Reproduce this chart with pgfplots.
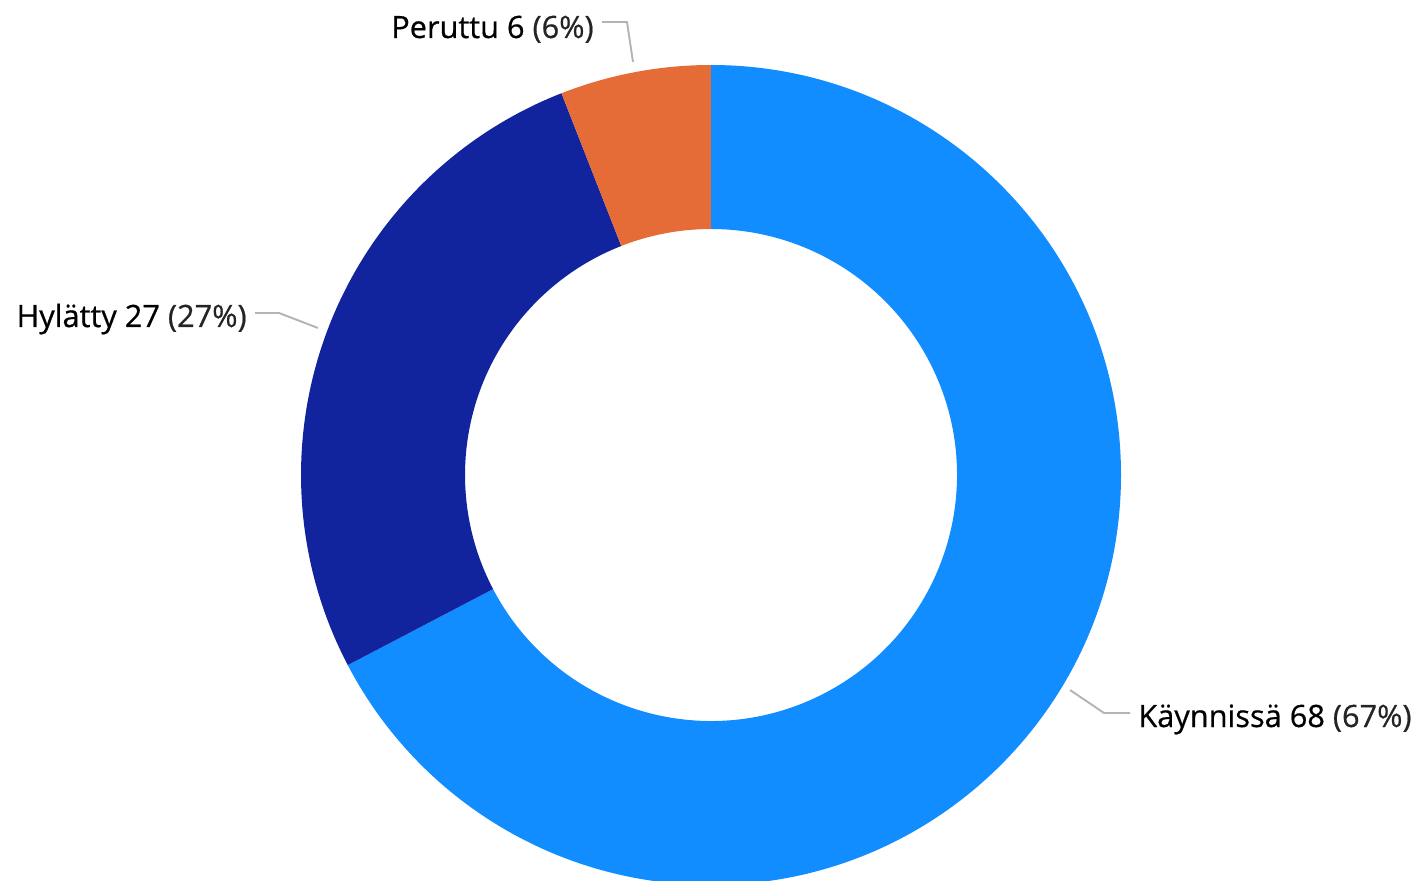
\documentclass[border=0pt]{standalone}
\usepackage{pgfplots}
\pgfplotsset{compat=1.18}
\usepackage{pgfplotstable}
\usepackage{fontspec}
\setmainfont{Open Sans}
\newfontface\lblfont{Open Sans}[FakeBold=0.6]

\definecolor{cBlue}{HTML}{118DFF}
\definecolor{cNavy}{HTML}{12239E}
\definecolor{cOrange}{HTML}{E66C37}
\definecolor{cLead}{HTML}{B4B4B4}
\definecolor{cPct}{HTML}{252423}

% donut slices, clockwise from 12 o'clock
\pgfplotstableread{
name value
Käynnissä 68
Hylätty 27
Peruttu 6
}\donutdata

% centre and radii in axis units (1 unit = 1 px of the reference)
\def\cx{711}
\def\cy{405}
\def\Rout{410}
\def\Rin{246}

\newcommand{\sector}[3]{%
  \fill[#1] (axis cs:{\cx+\Rout*cos(#2)},{\cy+\Rout*sin(#2)})
    arc[start angle=#2, end angle=#3, radius=\Rout]
    -- (axis cs:{\cx+\Rin*cos(#3)},{\cy+\Rin*sin(#3)})
    arc[start angle=#3, end angle=#2, radius=\Rin] -- cycle;}

\tikzset{lbl/.style={font=\lblfont\fontsize{17.5}{21}\selectfont, inner sep=0pt, text=black}}

\begin{document}
\begin{tikzpicture}
\pgfplotstablegetelem{0}{value}\of\donutdata \edef\va{\pgfplotsretval}
\pgfplotstablegetelem{1}{value}\of\donutdata \edef\vb{\pgfplotsretval}
\pgfplotstablegetelem{2}{value}\of\donutdata \edef\vc{\pgfplotsretval}
\pgfmathsetmacro{\tot}{\va+\vb+\vc}
\pgfmathsetmacro{\aA}{90}
\pgfmathsetmacro{\aB}{90-360*(\va/\tot)}
\pgfmathsetmacro{\aC}{\aB-360*(\vb/\tot)}
\pgfmathsetmacro{\aD}{\aC-360*(\vc/\tot)}
\pgfmathtruncatemacro{\pa}{round(100*(\va/\tot))}
\pgfmathtruncatemacro{\pb}{round(100*(\vb/\tot))}
\pgfmathtruncatemacro{\pc}{round(100*(\vc/\tot))}
\begin{axis}[
    x=0.02cm, y=0.02cm,
    xmin=0, xmax=1417, ymin=0, ymax=880,
    hide axis,
    clip=true,
]
\sector{cBlue}{\aA}{\aB}
\sector{cNavy}{\aB}{\aC}
\sector{cOrange}{\aC}{\aD}

% leader lines
\addplot[cLead, line width=1.1pt] coordinates {(602,858) (627,858) (633,818)};
\addplot[cLead, line width=1.1pt] coordinates {(255,567) (279,567) (318,552)};
\addplot[cLead, line width=1.1pt] coordinates {(1070,190) (1104,167) (1130,167)};

\node[lbl, anchor=base east] at (axis cs:594,842) {Peruttu \vc\ \textcolor{cPct}{(\pc\%)}};
\node[lbl, anchor=base east] at (axis cs:247,553) {Hylätty \vb\ \textcolor{cPct}{(\pb\%)}};
\node[lbl, anchor=base west] at (axis cs:1138,153) {Käynnissä \va\ \textcolor{cPct}{(\pa\%)}};

\coordinate (sw) at (axis cs:0,0);
\coordinate (ne) at (axis cs:1417,880);
\end{axis}
\pgfresetboundingbox
\path[use as bounding box] (sw) rectangle (ne);
\end{tikzpicture}
\end{document}
